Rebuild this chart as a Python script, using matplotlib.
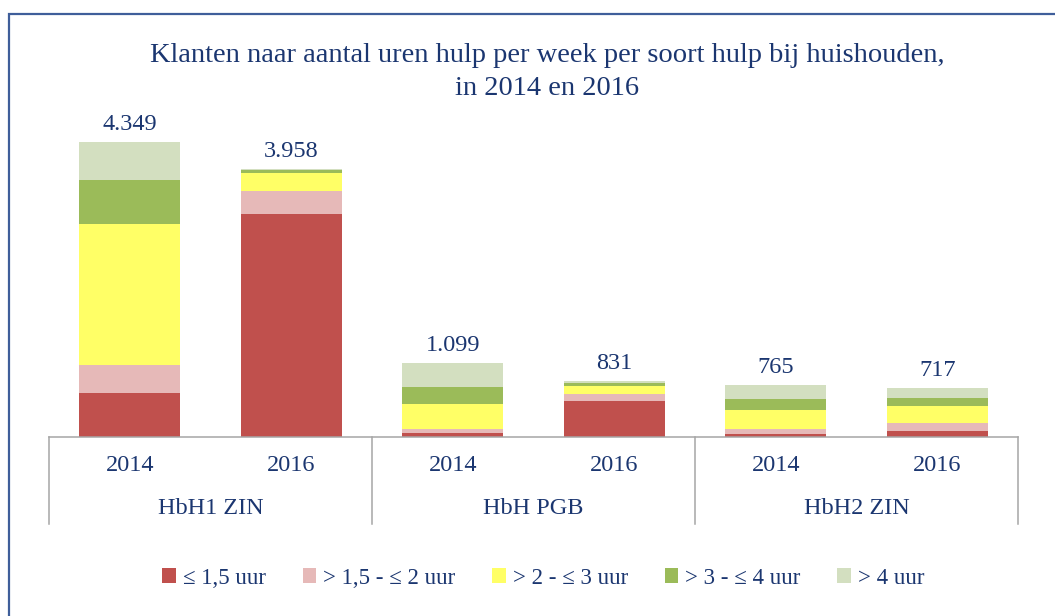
import numpy as np
import matplotlib.pyplot as plt
from matplotlib.patches import Rectangle

plt.rcParams['font.family'] = ['Liberation Serif', 'DejaVu Serif']

years = ['2014', '2016', '2014', '2016', '2014', '2016']
groups = ['HbH1 ZIN', 'HbH PGB', 'HbH2 ZIN']
totals = ['4.349', '3.958', '1.099', '831', '765', '717']

series_names = ['≤ 1,5 uur', '> 1,5 - ≤ 2 uur', '> 2 - ≤ 3 uur', '> 3 - ≤ 4 uur', '> 4 uur']
le_15 = [650, 3297, 65, 530, 50, 89]
gt15_le2 = [409, 331, 49, 103, 74, 118]
gt2_le3 = [2083, 275, 369, 118, 281, 246]
gt3_le4 = [650, 30, 256, 40, 152, 123]
gt4 = [557, 25, 360, 40, 208, 141]

colors = ['#C0504D', '#E6B9B8', '#FFFF66', '#9BBB59', '#D3DFC0']
txt = '#1B3670'

fig = plt.figure(figsize=(10.55, 6.16), dpi=100)
ax = fig.add_axes([49/1055, 179/616, 969/1055, 337/616])

x = np.arange(len(years))
bottom = np.zeros(len(years))
for name, vals, c in zip(series_names, [le_15, gt15_le2, gt2_le3, gt3_le4, gt4], colors):
    ax.bar(x, vals, width=0.625, bottom=bottom, color=c, label=name)
    bottom += np.array(vals)

for xi, top, lab in zip(x, bottom, totals):
    ax.annotate(lab, (xi, top), xytext=(0, 5), textcoords='offset points',
                ha='center', va='bottom', fontsize=17.5, color=txt)

ax.set_xlim(-0.5, 5.5)
ax.set_ylim(0, 4973)
ax.set_yticks([])
ax.set_xticks([])
for s in ['left', 'top', 'right']:
    ax.spines[s].set_visible(False)
ax.spines['bottom'].set_color('#A6A6A6')
ax.spines['bottom'].set_linewidth(1.1)

# two-level category axis
trans = ax.get_xaxis_transform()
for xi, yr in zip(x, years):
    ax.text(xi, -0.086, yr, transform=trans, ha='center', va='center', fontsize=17.5, color=txt)
for i, g in enumerate(groups):
    ax.text(2*i + 0.5, -0.211, g, transform=trans, ha='center', va='center', fontsize=17.5, color=txt)
for sx in [-0.5, 1.5, 3.5, 5.5]:
    ax.plot([sx, sx], [0, -0.258], transform=trans, color='#A6A6A6', lw=1.1, clip_on=False)

fig.text(0.519, 1 - 72/616, 'Klanten naar aantal uren hulp per week per soort hulp bij huishouden,\nin 2014 en 2016',
         ha='center', va='center', fontsize=20.5, color=txt, linespacing=1.38)

fig.legend(loc='center', bbox_to_anchor=(0.515, 1 - 578/616), ncol=5, frameon=False,
           fontsize=16.5, labelcolor=txt, handlelength=0.6, handleheight=0.6,
           handletextpad=0.3, columnspacing=1.6)

fig.patches.append(Rectangle((9/1055, -0.1), 1.2, 1 + 0.1 - 14/616, transform=fig.transFigure,
                             fill=False, edgecolor='#3F5E9A', lw=1.6))

fig.savefig('out.png', dpi=100)
